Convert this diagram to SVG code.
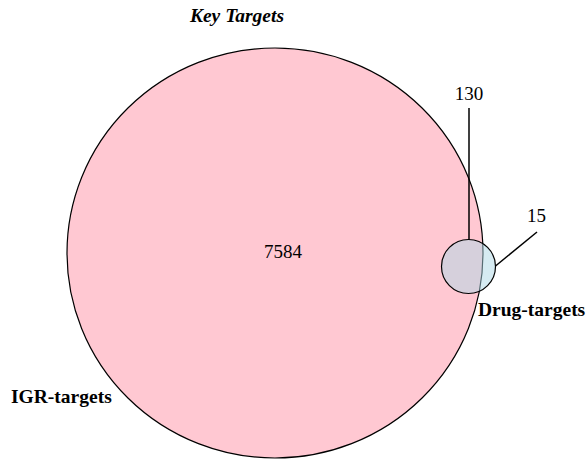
<svg xmlns="http://www.w3.org/2000/svg" width="587" height="461" viewBox="0 0 587 461">
<style>
.lbl{font-family:"Liberation Serif","Times New Roman",serif;fill:#000}
.b{font-weight:bold;font-size:19.5px}
.n{font-size:19px}
.ln{stroke:#000;stroke-width:1.5;fill:none}
</style>
<rect width="587" height="461" fill="#fff"/>
<text class="lbl b" x="237" y="22" text-anchor="middle" font-style="italic">Key Targets</text>
<g id="igr-targets">
<ellipse cx="275" cy="253" rx="208" ry="205" fill="#FFC8D2" stroke="#000" stroke-width="1.2"/>
<text class="lbl n" x="283" y="258" text-anchor="middle">7584</text>
<text class="lbl b" x="11" y="403">IGR-targets</text>
</g>
<g id="drug-targets">
<circle cx="468.5" cy="266.5" r="27" fill="#ADD8E6" fill-opacity="0.5" stroke="#000" stroke-width="1.2"/>
<text class="lbl b" x="478" y="316">Drug-targets</text>
</g>
<g id="connectors">
<line class="ln" x1="469" y1="108" x2="469" y2="239.5"/>
<line class="ln" x1="495.5" y1="266" x2="537" y2="232"/>
<text class="lbl n" x="469" y="100" text-anchor="middle">130</text>
<text class="lbl n" x="536.5" y="222" text-anchor="middle">15</text>
</g>
</svg>
